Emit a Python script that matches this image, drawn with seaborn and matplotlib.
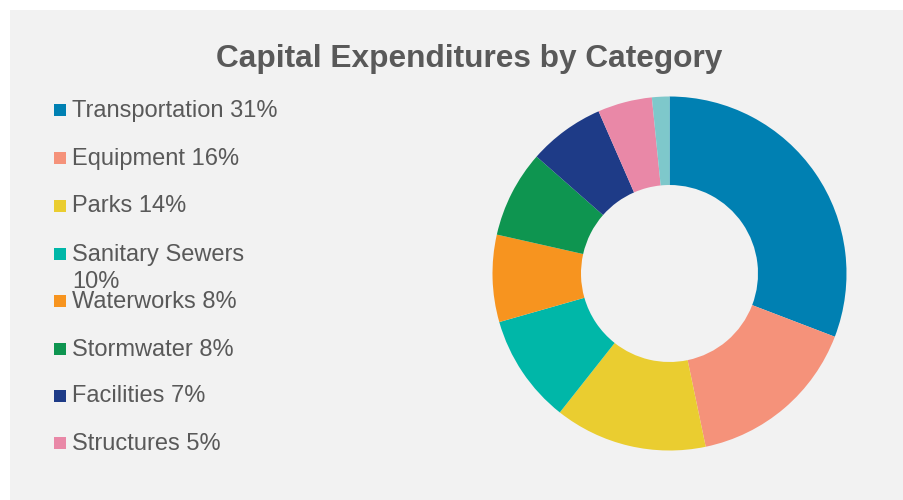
import matplotlib
matplotlib.use("Agg")
import matplotlib.pyplot as plt
from matplotlib.patches import Rectangle
import seaborn as sns

# Capital spending shares by category (percent)
categories = ["Transportation", "Equipment", "Parks", "Sanitary Sewers",
              "Waterworks", "Stormwater", "Facilities", "Structures", "Other"]
shares = [31, 16, 14, 10, 8, 8, 7, 5, 1.6]
colors = ["#0080B2", "#F5927A", "#EACD30", "#00B7A8", "#F7941F",
          "#0E9550", "#1E3B87", "#E988A7", "#7EC8CB"]
# Legend lists only the first eight categories
legend_labels = ["Transportation 31%", "Equipment 16%", "Parks 14%",
                 "Sanitary Sewers\n10%", "Waterworks 8%", "Stormwater 8%",
                 "Facilities 7%", "Structures 5%"]

sns.set_theme(style="white")
plt.rcParams["font.family"] = ["Liberation Sans", "DejaVu Sans"]

W, H = 904, 500
fig = plt.figure(figsize=(W / 100, H / 100), dpi=100, facecolor="white")

# grey chart panel, kept behind the donut axes
fig.patches.append(Rectangle((10 / W, 0), 1, (H - 10) / H, transform=fig.transFigure,
                             facecolor="#F2F2F2", edgecolor="none", zorder=-5))

text_color = "#595959"

# donut
cx, cy, r = 669.5, 273.5, 177
ax = fig.add_axes([(cx - r) / W, (H - cy - r) / H, 2 * r / W, 2 * r / H])
ax.set_zorder(2)
ax.set_facecolor("none")
ax.pie(shares, colors=colors, startangle=90, counterclock=False,
       wedgeprops=dict(width=0.5, linewidth=0), radius=1)
ax.set_xlim(-1, 1)
ax.set_ylim(-1, 1)
ax.set_aspect("equal")
ax.axis("off")

# title
fig.text(469.5 / W, 1 - 67 / H, "Capital Expenditures by Category",
         ha="center", va="baseline", fontsize=22.8, fontweight="bold",
         color=text_color)

# legend
centers = [108, 156, 204, 252, 299, 347, 394, 441]
for label, col, yc in zip(legend_labels, colors, centers):
    fig.patches.append(Rectangle((54 / W, 1 - (yc + 8) / H), 12 / W, 12 / H,
                                 transform=fig.transFigure, facecolor=col,
                                 edgecolor="none"))
    first = label.split("\n")[0]
    fig.text(72 / W, 1 - (yc + 8.5) / H, first, ha="left", va="baseline",
             fontsize=17, color=text_color)
    if "\n" in label:
        fig.text(72 / W, 1 - (yc + 8.5 + 28) / H, label.split("\n")[1],
                 ha="left", va="baseline", fontsize=17, color=text_color)

fig.savefig("out.png", dpi=100, facecolor="white")
